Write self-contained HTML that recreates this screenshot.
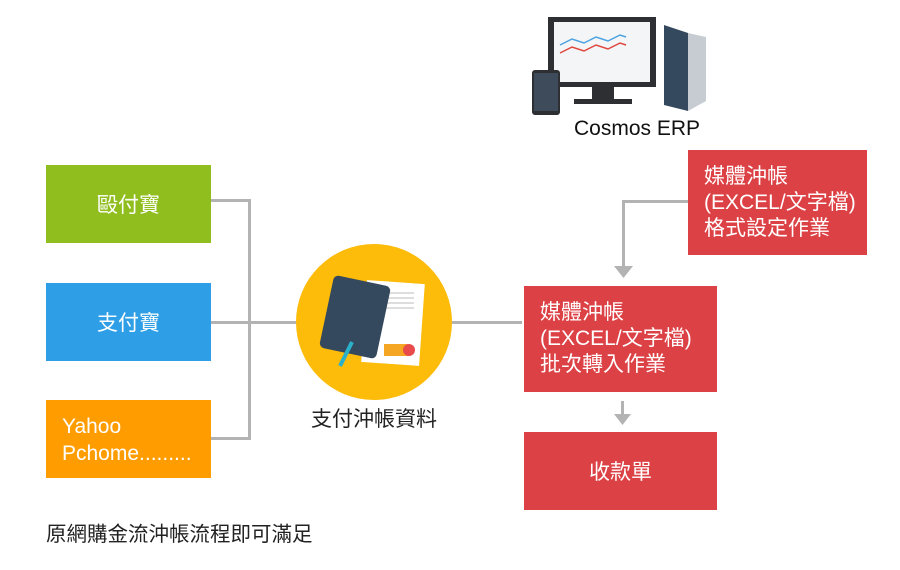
<!DOCTYPE html>
<html><head><meta charset="utf-8"><style>
body{margin:0;width:900px;height:570px;background:#fff;position:relative;overflow:hidden;font-family:"Liberation Sans","Noto Sans CJK TC",sans-serif}
.b{position:absolute;color:#fff;font-size:21px;box-sizing:border-box}
.c{display:flex;align-items:center;justify-content:center}
.l{position:absolute;background:#b3b3b3}
.t{padding-left:16px;display:flex;flex-direction:column;justify-content:center;line-height:26px}
</style></head><body>
<div class="b c" style="left:46px;top:165px;width:165px;height:78px;background:#8fbe1e">毆付寶</div>
<div class="b c" style="left:46px;top:283px;width:165px;height:78px;background:#2e9fe6">支付寶</div>
<div class="b t" style="left:46px;top:400px;width:165px;height:78px;background:#ff9c00;line-height:27px;padding-top:2px">Yahoo<br>Pchome.........</div>
<div class="l" style="left:211px;top:199px;width:39px;height:3px"></div>
<div class="l" style="left:211px;top:437px;width:39px;height:3px"></div>
<div class="l" style="left:248px;top:199px;width:3px;height:241px"></div>
<div class="l" style="left:211px;top:321px;width:86px;height:3px"></div>
<div class="l" style="left:452px;top:321px;width:70px;height:3px"></div>
<div style="position:absolute;left:296px;top:244px;width:156px;height:156px;border-radius:50%;background:#fdbb0a"></div>
<svg style="position:absolute;left:296px;top:244px" width="156" height="156">
<rect x="68" y="38" width="58" height="82" fill="#fff" transform="rotate(4 97 79)"/>
<g fill="#ddd"><rect x="74" y="48" width="44" height="2"/><rect x="74" y="53" width="44" height="2"/><rect x="74" y="58" width="44" height="2"/><rect x="74" y="63" width="44" height="2"/></g>
<rect x="88" y="100" width="24" height="12" fill="#f5a623"/><circle cx="113" cy="106" r="6" fill="#e94b4b"/>
<rect x="30" y="36" width="58" height="74" rx="5" fill="#34485e" transform="rotate(12 59 73)"/>
<line x1="56" y1="98" x2="44" y2="122" stroke="#2bb0c9" stroke-width="4"/>
</svg>
<div style="position:absolute;left:290px;top:403px;width:168px;text-align:center;font-size:21px;color:#222">支付沖帳資料</div>
<div class="b t" style="left:688px;top:150px;width:179px;height:105px;background:#dc4145">媒體沖帳<br>(EXCEL/文字檔)<br>格式設定作業</div>
<div class="b t" style="left:524px;top:286px;width:193px;height:106px;background:#dc4145">媒體沖帳<br>(EXCEL/文字檔)<br>批次轉入作業</div>
<div class="b c" style="left:524px;top:432px;width:193px;height:78px;background:#dc4145">收款單</div>
<div class="l" style="left:622px;top:200px;width:66px;height:3px"></div>
<div class="l" style="left:622px;top:200px;width:3px;height:70px"></div>
<svg style="position:absolute;left:614px;top:266px" width="19" height="13"><polygon points="0,0 19,0 9.5,12" fill="#b3b3b3"/></svg>
<div class="l" style="left:621px;top:401px;width:3px;height:16px"></div>
<svg style="position:absolute;left:614px;top:414px" width="17" height="12"><polygon points="0,0 17,0 8.5,11" fill="#b3b3b3"/></svg>
<svg style="position:absolute;left:528px;top:15px" width="190" height="110">
<rect x="20" y="2" width="108" height="70" fill="#2d2f33"/><rect x="26" y="7" width="96" height="60" fill="#f3f5f7"/>
<polyline points="32,30 44,24 56,28 68,22 80,26 92,20 98,22" stroke="#4aa3e0" fill="none" stroke-width="1.5"/>
<polyline points="32,38 44,32 56,36 68,30 80,34 92,28 98,30" stroke="#e0453c" fill="none" stroke-width="1.5"/>
<rect x="64" y="72" width="22" height="12" fill="#2d2f33"/><rect x="46" y="84" width="58" height="5" fill="#2d2f33"/>
<rect x="4" y="55" width="28" height="45" rx="3" fill="#2d2f33"/><rect x="6" y="58" width="24" height="38" fill="#3d4b5b"/>
<polygon points="136,10 160,18 160,96 136,90" fill="#34485e"/><polygon points="160,18 178,22 178,86 160,96" fill="#c7ccd2"/>
</svg>
<div style="position:absolute;left:574px;top:117px;font-size:21px;color:#111">Cosmos ERP</div>
<div style="position:absolute;left:46px;top:517px;font-size:20.5px;color:#222">原網購金流沖帳流程即可滿足</div>
</body></html>
